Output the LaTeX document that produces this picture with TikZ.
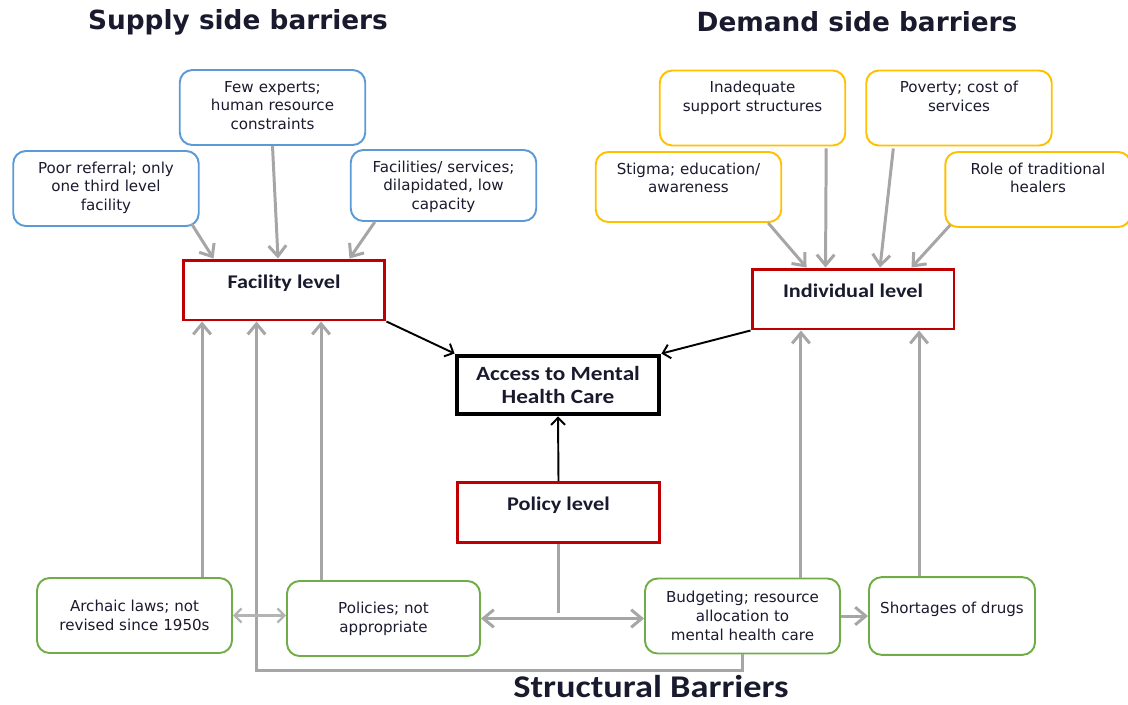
\documentclass[tikz,border=0pt]{standalone}
\usepackage{fontspec}
\setmainfont{DejaVu Sans}
\newfontfamily\calibri[FakeStretch=1.15]{Carlito}
\usetikzlibrary{arrows.meta,calc,positioning}
\definecolor{barblue}{HTML}{5B9BD5}
\definecolor{baryellow}{HTML}{FFC000}
\definecolor{bargreen}{HTML}{70AD47}
\definecolor{levelred}{HTML}{C00000}
\definecolor{flowgray}{HTML}{A6A6A6}
\definecolor{lightflow}{HTML}{B4B4B4}
\definecolor{inkdark}{HTML}{1A1A2E}

\begin{document}
\begin{tikzpicture}[x=0.02cm,y=-0.02cm,text=inkdark,
    barrier/.style={rounded corners=0.25cm,line width=1.1pt,text width=3.45cm,align=center,
      inner xsep=0.13cm,inner ysep=0.1cm,text height=0.34cm,text depth=0.96cm,
      font=\fontsize{8.6}{10.8}\selectfont},
    supply/.style={barrier,draw=barblue},
    demand/.style={barrier,draw=baryellow},
    structural/.style={draw=bargreen,rounded corners=0.25cm,line width=1.1pt,align=center,
      minimum width=3.9cm,minimum height=1.5cm,font=\fontsize{8.6}{10.8}\selectfont},
    level/.style={draw=levelred,line width=1.7pt,minimum width=4.04cm,inner sep=0.1cm,
      text height=0.46cm,text depth=0.54cm,font=\calibri\bfseries\fontsize{11}{13}\selectfont},
    heading/.style={font=\bfseries\fontsize{15}{17}\selectfont},
    flow/.style={draw=flowgray,line width=1.7pt,-{Straight Barb[length=6pt,width=10pt]}},
    lightflow/.style={draw=lightflow,line width=1.3pt,{Straight Barb[length=4pt,width=8pt]}-{Straight Barb[length=4pt,width=8pt]}},
    access/.style={draw=black,line width=1.1pt,-{Straight Barb[length=4pt,width=8pt]}}]

    \useasboundingbox (0,0) rectangle (1128,704);

    % Headings
    \node[heading] (supplyhead) at (238,22) {Supply side barriers};
    \node[heading] (demandhead) at (857,22) {Demand side barriers};
    \node[font=\calibri\bfseries\fontsize{18}{21}\selectfont,inner sep=0pt,anchor=base] (structhead) at (651,697) {Structural Barriers};

    % Define boxes
    \node[supply] (few) at (272.5,107.5) {Few experts;\\human resource\\constraints};
    \node[supply] (poor) at (106,188.5) {Poor referral; only\\one third level\\facility};
    \node[supply,text depth=0.88cm] (facilities) at (443.5,185.5) {Facilities/ services;\\dilapidated, low\\capacity};
    \node[demand] (inadequate) at (752.5,108) {Inadequate\\support structures};
    \node[demand] (poverty) at (959,108) {Poverty; cost of\\services};
    \node[demand,text depth=0.86cm] (stigma) at (688.5,187) {Stigma; education/\\awareness};
    \node[demand] (role) at (1038,189.5) {Role of traditional\\healers};

    \node[level] (facility) at (284,290) {Facility level};
    \node[level] (individual) at (853,299) {Individual level};
    \node[level] (policy) at (558.5,512.5) {Policy level};
    \node[draw=black,line width=2.5pt,minimum width=4.05cm,minimum height=1.17cm,align=center,
      font=\calibri\bfseries\fontsize{11.5}{13.5}\selectfont] (care) at (558,385) {Access to Mental\\Health Care};

    \node[structural] (archaic) at (134.5,615.5) {Archaic laws; not\\revised since 1950s};
    \node[structural,minimum width=3.86cm] (policies) at (383.5,618.5) {Policies; not\\appropriate};
    \node[structural] (budgeting) at (742.5,616) {Budgeting; resource\\allocation to\\mental health care};
    \node[structural,minimum width=3.32cm,text height=0.6cm,text depth=0.72cm] (shortages) at (952,616) {Shortages of drugs};

    % Draw arrows
    \path[every edge/.append style={flow}]
        ($(poor.south east)+(-8,-3)$) edge ($(facility.north west)+(32,0)$)
        (few.south) edge ($(facility.north)+(-6,0)$)
        ($(facilities.south west)+(25,0)$) edge ($(facility.north east)+(-37,0)$)
        ($(stigma.south east)+(-14,0)$) edge ($(individual.north west)+(56,0)$)
        ($(inadequate.south east)+(-20,2)$) edge ($(individual.north west)+(75,0)$)
        ($(poverty.south west)+(28,2)$) edge ($(individual.north)+(27,0)$)
        ($(role.south west)+(6,-3)$) edge ($(individual.north east)+(-44,0)$);

    \path[every edge/.append style={access}]
        (facility.south east) edge (care.north west)
        (individual.south west) edge (care.north east)
        (policy.north) edge (care.south);

    \coordinate (archup) at ($(archaic.north west)+(166,0)$);
    \coordinate (polup) at ($(policies.north west)+(35,0)$);
    \coordinate (budup) at ($(budgeting.north east)+(-40,0)$);
    \coordinate (shortup) at ($(shortages.north west)+(51,0)$);
    \draw[flow] (archup) -- (archup |- facility.south);
    \draw[flow] (polup) -- (polup |- facility.south);
    \draw[flow] (budup) -- (budup |- individual.south);
    \draw[flow] (shortup) -- (shortup |- individual.south);
    \draw[flow] (budgeting.south) -- ++(0,16) -| ($(facility.south west)+(75,0)$);

    \draw[lightflow] (archaic.east) -- (archaic.east -| policies.west);
    \draw[flow,{Straight Barb[length=6pt,width=10pt]}-{Straight Barb[length=6pt,width=10pt]}]
        (policies.east) -- (policies.east -| budgeting.west);
    \draw[draw=flowgray,line width=1.7pt] (policy.south) -- ($(policy.south |- policies.east)+(0,-6)$);
    \draw[flow] (budgeting.east) -- (shortages.west);

\end{tikzpicture}
\end{document}
